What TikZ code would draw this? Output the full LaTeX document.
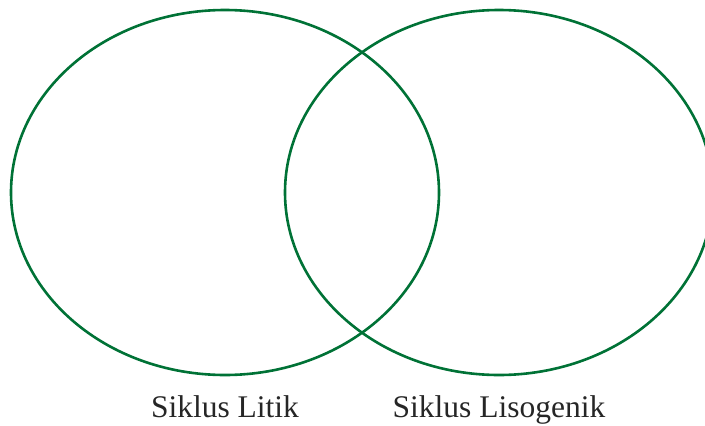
\documentclass[tikz,border=0pt]{standalone}
\usepackage{fontspec}
\setmainfont{Liberation Serif}
\definecolor{vgreen}{RGB}{0,114,54}
\begin{document}
\begin{tikzpicture}[x=1pt,y=-1pt,
  setring/.style={draw=vgreen,line width=2.6pt},
  setlabel/.style={font=\fontsize{31.5}{36}\selectfont,text=black!85,inner sep=0pt,anchor=base}]
\useasboundingbox (0,0) rectangle (705,426);
\clip (0,0) rectangle (705,426);
\draw[setring] (225,192.5) ellipse [x radius=214, y radius=182.5];
\draw[setring] (499,192.5) ellipse [x radius=214, y radius=182.5];
\node[setlabel] (litik) at (225,417) {Siklus Litik};
\node[setlabel] (liso) at (499,417) {Siklus Lisogenik};
\end{tikzpicture}
\end{document}
